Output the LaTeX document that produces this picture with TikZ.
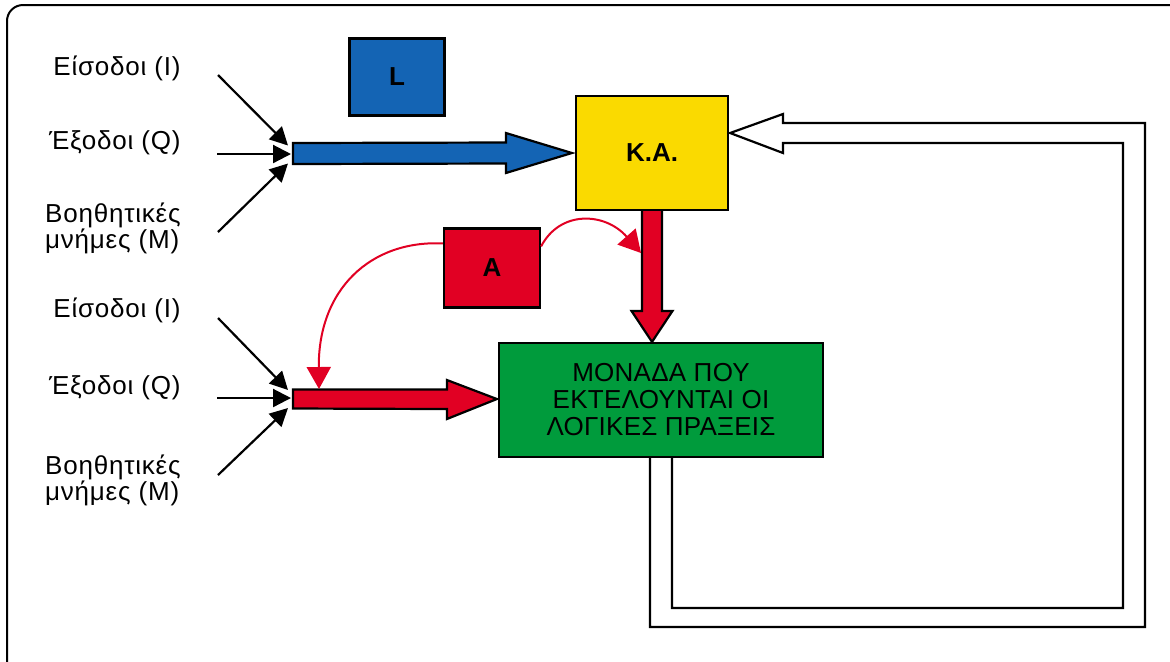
\documentclass[tikz,border=0pt]{standalone}
\usepackage{fontspec}
\setmainfont{Liberation Sans}
\usetikzlibrary{positioning,calc,arrows.meta}

\definecolor{blueL}{RGB}{20,100,180}
\definecolor{yellowKA}{RGB}{250,218,0}
\definecolor{redA}{RGB}{225,0,35}
\definecolor{greenM}{RGB}{0,155,60}

\begin{document}
\begin{tikzpicture}[x=0.5pt,y=-0.5pt,
    box/.style={draw,line width=1.1pt,inner sep=0pt,font=\fontsize{13}{15}\selectfont\bfseries},
    lbl/.style={anchor=east,inner sep=0pt,align=left,font=\fontsize{13}{13}\selectfont\addfontfeature{LetterSpace=3}},
    inarrow/.style={line width=1.1pt,-{Triangle[length=9pt,width=9pt]}},
    fatarrow/.style={draw,line width=1.1pt,line join=miter},
    redcurve/.style={draw=redA,line width=1pt,-{Triangle[length=11pt,width=12pt]}}]
  \useasboundingbox (0,0) rectangle (1170,661);
  \draw[line width=1pt,rounded corners=8pt] (7,5) rectangle (1195,685);

  % boxes
  \node[box,fill=blueL,minimum width=47.5pt,minimum height=38.5pt] (lbox) at (397,77) {L};
  \node[box,fill=yellowKA,minimum width=76pt,minimum height=57pt] (ka) at (652,153) {Κ.Α.};
  \node[box,fill=redA,minimum width=48pt,minimum height=39.5pt] (abox) at (492,268) {A};
  \node[box,fill=greenM,minimum width=162pt,minimum height=57pt,align=center,
        font=\fontsize{13}{13.5}\selectfont\addfontfeature{LetterSpace=1}] (mon) at (661,400)
        {ΜΟΝΑΔΑ ΠΟΥ\\ΕΚΤΕΛΟΥΝΤΑΙ ΟΙ\\ΛΟΓΙΚΕΣ ΠΡΑΞΕΙΣ};

  % labels
  \node[lbl] (in1) at (181,68) {Είσοδοι (I)};
  \node[lbl] (out1) at (181,143) {Έξοδοι (Q)};
  \node[lbl] (aux1) at (181,228) {Βοηθητικές\\μνήμες (M)};
  \node[lbl] (in2) at (181,310) {Είσοδοι (I)};
  \node[lbl] (out2) at (181,388) {Έξοδοι (Q)};
  \node[lbl] (aux2) at (181,480) {Βοηθητικές\\μνήμες (M)};

  % inputs
  \coordinate (j1) at (293,153.5);
  \coordinate (j2) at (293,399);
  \coordinate (s1a) at (218,75);
  \coordinate (s1b) at (217,154);
  \coordinate (s1c) at (218,232);
  \coordinate (s2a) at (218,318);
  \coordinate (s2b) at (217,398);
  \coordinate (s2c) at (218,475);
  \draw[inarrow] (s1a) -- ($(j1)+(-5,-8)$);
  \draw[inarrow] (s1b) -- ($(j1)+(-2,0.5)$);
  \draw[inarrow] (s1c) -- ($(j1)+(-5,10)$);
  \draw[inarrow] (s2a) -- ($(j2)+(-5,-9)$);
  \draw[inarrow] (s2b) -- ($(j2)+(-2,-1)$);
  \draw[inarrow] (s2c) -- ($(j2)+(-5,9)$);

  % fat arrows
  \draw[fatarrow,fill=blueL] ($(j1)+(0,-10.5)$) -- ($(ka.west)+(-69,-10.5)$)
    -- ($(ka.west)+(-69,-20)$) -- ($(ka.west)+(-3,0)$) -- ($(ka.west)+(-69,20)$)
    -- ($(ka.west)+(-69,10.5)$) -- ($(j1)+(0,10.5)$) -- cycle;
  \draw[fatarrow,fill=redA] ($(j2)+(0,-9.5)$) -- ($(mon.west)+(-51,-10.5)$)
    -- ($(mon.west)+(-51,-20)$) -- ($(mon.west)+(-1,-1)$) -- ($(mon.west)+(-51,19)$)
    -- ($(mon.west)+(-51,9)$) -- ($(j2)+(0,9.5)$) -- cycle;
  \coordinate (kb) at (ka.south);
  \coordinate (mt) at (ka.south |- mon.north);
  \draw[fatarrow,fill=redA] ($(kb)+(-10,0)$) -- ($(mt)+(-10,-31)$) -- ($(mt)+(-20.5,-31)$)
    -- (mt) -- ($(mt)+(20.5,-31)$) -- ($(mt)+(10,-31)$) -- ($(kb)+(10,0)$);

  % feedback
  \draw[fatarrow,fill=white] ($(mon.south)+(-11,0)$) |- (1145,627) -- (1145,123)
    -- (783,123) -- (783,114) -- ($(ka.east)+(1,-20)$) -- (783,153) -- (783,143)
    -- (1123,143) -- (1123,608) -| ($(mon.south)+(11,0)$);

  % curves from A
  \draw[redcurve] ($(abox.north east)+(0,19)$) .. controls (560,210) and (605,212) .. (641,253);
  \draw[redcurve] ($(abox.north west)+(0,16)$) .. controls (370,240) and (318,290) .. ($(j2)+(26,-10)$);
\end{tikzpicture}
\end{document}
